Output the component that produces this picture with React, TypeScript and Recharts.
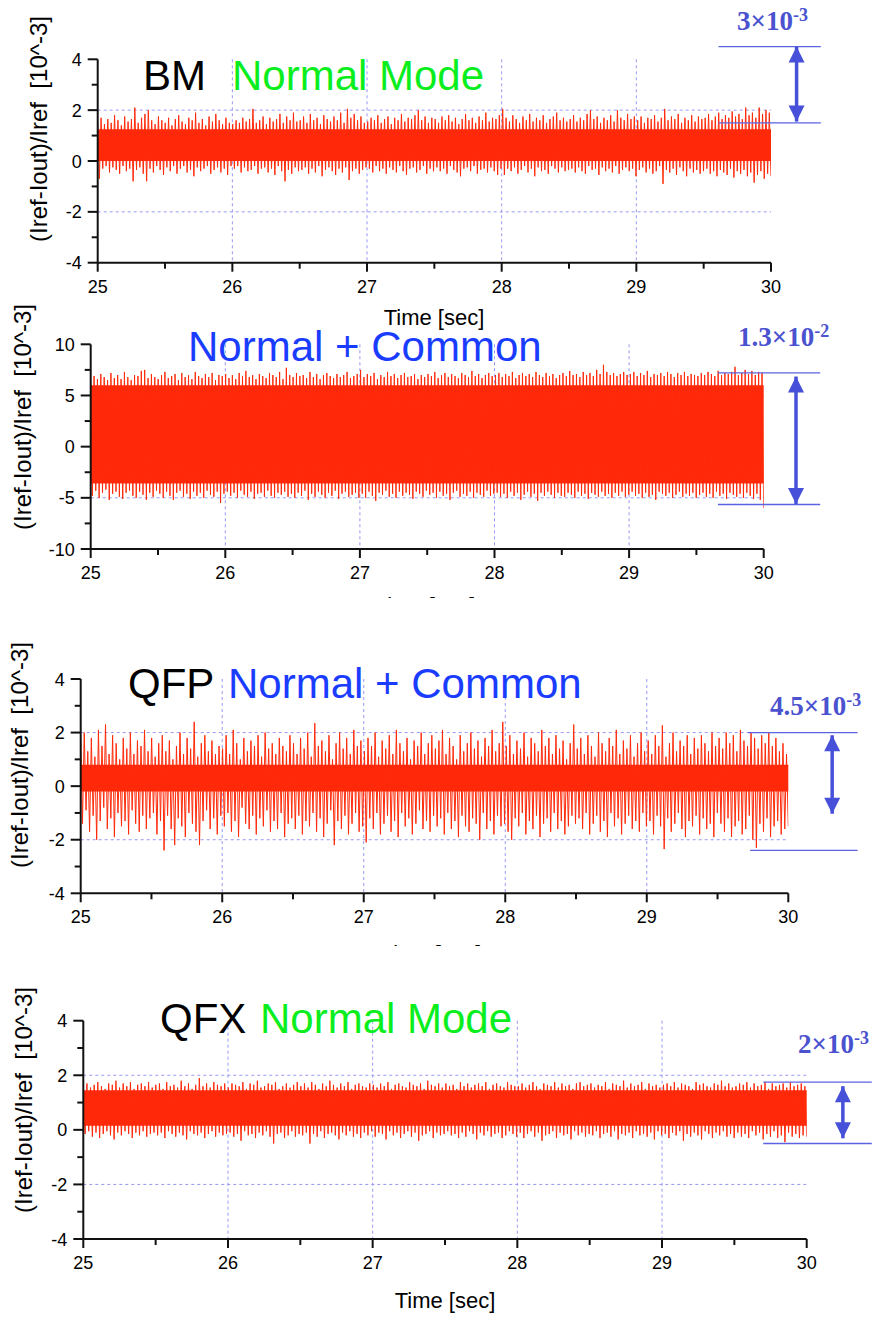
import React from 'react';
import {
  ComposedChart,
  Line,
  XAxis,
  YAxis,
  CartesianGrid,
  ReferenceArea,
  ReferenceLine,
  ReferenceDot,
} from 'recharts';

// ---------------- data ----------------
const xTicks = [25, 25.5, 26, 26.5, 27, 27.5, 28, 28.5, 29, 29.5, 30];
const xGrid = [26, 27, 28, 29];
const yTicksSmall = [-4, -3, -2, -1, 0, 1, 2, 3, 4];
const yMajorSmall = [-4, -2, 0, 2, 4];
const yTicksLarge = [-10, -7.5, -5, -2.5, 0, 2.5, 5, 7.5, 10];
const yMajorLarge = [-10, -5, 0, 5, 10];

// BM, normal mode: local maxima / minima read in 0.025 s steps from 25 s to 30 s
const bmPeaks = [
  1.55, 1.7, 1.45, 1.65, 1.5, 1.8, 1.6, 1.4, 1.75, 1.55, 1.65, 2.1, 1.5, 1.7, 1.85, 2.0, 1.6, 1.45, 1.75, 1.6,
  1.5, 1.7, 1.4, 1.65, 1.8, 1.55, 1.45, 1.7, 1.6, 1.9, 1.5, 1.65, 1.4, 1.75, 1.55, 1.85, 1.6, 1.45, 1.7, 1.5,
  1.45, 1.6, 1.5, 1.7, 1.55, 1.65, 2.05, 1.5, 1.6, 1.75, 1.45, 1.7, 1.55, 1.65, 1.85, 1.5, 1.75, 1.6, 1.9, 1.55,
  1.6, 1.75, 1.5, 1.85, 1.6, 1.7, 1.45, 1.8, 1.65, 1.55, 1.75, 1.6, 1.9, 1.5, 2.05, 1.7, 1.85, 1.6, 1.75, 1.5,
  1.55, 1.7, 1.6, 1.8, 1.5, 1.65, 1.75, 1.45, 1.7, 1.6, 1.85, 1.55, 1.7, 1.65, 1.8, 2.0, 1.6, 1.75, 1.5, 1.7,
  1.65, 1.5, 1.75, 1.6, 1.8, 1.55, 1.7, 1.45, 1.65, 1.85, 1.6, 1.7, 1.5, 1.75, 1.6, 1.9, 1.55, 1.7, 1.65, 1.8,
  2.05, 1.7, 1.55, 1.8, 1.65, 1.5, 1.75, 1.6, 1.85, 1.55, 1.7, 1.6, 1.8, 1.5, 1.65, 1.75, 1.9, 1.6, 1.7, 1.55,
  1.65, 1.8, 1.55, 1.7, 1.6, 1.85, 2.0, 1.65, 1.75, 1.5, 1.7, 1.6, 1.8, 1.55, 2.0, 1.7, 1.6, 1.85, 1.65, 1.75,
  1.6, 1.75, 1.5, 1.7, 1.65, 1.8, 1.55, 1.7, 2.05, 1.6, 1.75, 1.65, 1.85, 1.5, 1.7, 1.6, 1.8, 1.55, 1.75, 1.65,
  1.7, 1.85, 1.6, 1.75, 1.9, 1.65, 1.8, 1.7, 1.95, 1.75, 1.85, 1.65, 2.1, 1.8, 1.9, 1.7, 2.1, 1.85, 2.0, 1.9,
];
const bmTroughs = [
  -0.7, -0.3, -0.2, -0.45, -0.25, -0.35, -0.5, -0.2, -0.4, -0.3, -0.8, -0.35, -0.25, -0.5, -0.8, -0.3, -0.45, -0.2, -0.35, -0.55,
  -0.25, -0.4, -0.2, -0.5, -0.3, -0.2, -0.45, -0.35, -0.6, -0.25, -0.4, -0.3, -0.2, -0.5, -0.35, -0.25, -0.45, -0.3, -0.55, -0.2,
  -0.3, -0.2, -0.45, -0.25, -0.4, -0.35, -0.2, -0.5, -0.3, -0.25, -0.45, -0.3, -0.55, -0.2, -0.4, -0.8, -0.35, -0.5, -0.25, -0.4,
  -0.35, -0.25, -0.5, -0.3, -0.45, -0.2, -0.6, -0.35, -0.25, -0.4, -0.55, -0.3, -0.45, -0.25, -0.75, -0.4, -0.3, -0.5, -0.35, -0.25,
  -0.3, -0.45, -0.2, -0.4, -0.3, -0.5, -0.25, -0.35, -0.45, -0.2, -0.4, -0.55, -0.3, -0.25, -0.45, -0.35, -0.2, -0.5, -0.3, -0.4,
  -0.25, -0.4, -0.3, -0.5, -0.2, -0.35, -0.45, -0.6, -0.3, -0.25, -0.4, -0.2, -0.5, -0.35, -0.3, -0.45, -0.25, -0.4, -0.55, -0.3,
  -0.55, -0.3, -0.4, -0.25, -0.5, -0.35, -0.2, -0.45, -0.3, -0.6, -0.25, -0.4, -0.35, -0.5, -0.2, -0.3, -0.45, -0.25, -0.4, -0.35,
  -0.3, -0.45, -0.25, -0.4, -0.5, -0.2, -0.35, -0.3, -0.55, -0.25, -0.4, -0.3, -0.45, -0.2, -0.5, -0.35, -0.25, -0.4, -0.3, -0.6,
  -0.35, -0.25, -0.45, -0.3, -0.5, -0.4, -0.2, -0.9, -0.35, -0.45, -0.3, -0.55, -0.25, -0.4, -0.6, -0.3, -0.45, -0.35, -0.5, -0.4,
  -0.3, -0.5, -0.4, -0.6, -0.35, -0.45, -0.55, -0.3, -0.65, -0.4, -0.5, -0.35, -0.6, -0.45, -0.85, -0.55, -0.4, -0.7, -0.5, -0.6,
];
const bmCore = [0.0, 1.25];

// Normal + Common
const ncPeaks = [
  6.4, 6.9, 6.6, 7.1, 6.8, 6.5, 7.2, 6.7, 7.0, 6.6, 7.3, 6.8, 6.5, 7.0, 6.9, 7.4, 7.5, 6.7, 7.1, 6.8,
  6.6, 7.0, 7.3, 6.7, 6.9, 7.1, 6.5, 7.2, 6.8, 7.0, 6.6, 7.3, 6.9, 6.7, 7.1, 6.8, 7.2, 6.5, 7.0, 6.9,
  7.1, 6.7, 7.0, 6.6, 7.2, 6.9, 7.4, 6.8, 7.0, 6.6, 7.1, 6.9, 6.7, 7.2, 7.0, 6.8, 7.3, 6.6, 7.7, 7.0,
  6.8, 7.2, 6.9, 7.0, 6.7, 7.3, 6.8, 7.1, 6.6, 7.0, 7.2, 6.9, 6.7, 7.1, 6.8, 7.0, 7.3, 6.7, 6.9, 7.1,
  7.5, 6.8, 7.1, 6.9, 7.2, 6.6, 7.0, 6.8, 7.3, 6.9, 7.1, 6.7, 7.0, 7.2, 6.8, 6.9, 7.1, 6.6, 7.0, 6.8,
  7.1, 6.9, 7.3, 6.7, 7.0, 7.2, 6.8, 7.1, 6.9, 6.7, 7.2, 7.0, 6.8, 7.4, 6.9, 7.1, 6.7, 7.0, 7.2, 6.9,
  7.0, 7.2, 6.8, 7.1, 6.9, 7.3, 6.7, 7.0, 7.2, 6.9, 7.1, 6.8, 7.3, 7.0, 6.8, 7.2, 6.9, 7.1, 6.7, 7.0,
  7.2, 6.9, 7.4, 7.0, 7.1, 6.8, 7.3, 7.0, 7.2, 6.9, 7.5, 7.1, 8.0, 7.3, 7.0, 7.2, 6.9, 7.1, 7.3, 7.0,
  7.1, 7.3, 6.9, 7.2, 7.0, 7.4, 6.8, 7.1, 7.0, 7.2, 6.9, 7.3, 7.1, 6.8, 7.2, 7.0, 7.3, 6.9, 7.1, 7.0,
  6.9, 7.2, 7.0, 7.3, 7.1, 6.9, 7.4, 7.0, 7.2, 7.1, 7.3, 7.8, 7.0, 7.2, 7.5, 7.1, 7.4, 7.0, 7.3, 7.2,
];
const ncTroughs = [
  -4.8, -4.3, -5.0, -4.5, -4.2, -5.2, -4.6, -4.4, -4.9, -5.1, -4.5, -4.3, -4.8, -5.0, -4.4, -4.7, -5.2, -4.5, -4.9, -4.3,
  -4.6, -5.0, -4.4, -4.8, -5.2, -4.5, -4.3, -4.9, -4.6, -5.1, -4.4, -4.8, -4.5, -5.0, -4.3, -4.7, -4.9, -4.4, -5.5, -4.6,
  -4.4, -4.8, -4.5, -5.0, -4.3, -4.7, -4.9, -4.4, -5.1, -4.6, -4.5, -4.9, -4.3, -4.8, -5.0, -4.5, -4.7, -4.4, -4.9, -4.6,
  -5.0, -4.5, -4.8, -4.3, -5.2, -4.6, -4.9, -4.4, -4.7, -5.0, -4.5, -4.8, -4.3, -5.1, -4.6, -4.4, -4.9, -4.7, -4.5, -5.0,
  -4.6, -5.0, -4.4, -4.8, -5.3, -4.5, -4.7, -4.3, -4.9, -4.6, -5.0, -4.4, -4.8, -4.5, -4.7, -5.1, -4.4, -4.6, -4.9, -4.3,
  -4.7, -4.5, -5.0, -4.4, -4.8, -4.6, -5.2, -4.5, -4.3, -4.9, -4.6, -4.8, -4.4, -5.0, -4.5, -4.7, -4.9, -4.3, -4.8, -4.6,
  -4.5, -4.9, -4.6, -5.0, -4.4, -4.8, -4.5, -5.2, -4.7, -4.4, -4.9, -4.6, -5.3, -4.5, -4.8, -4.4, -4.7, -5.0, -4.5, -4.8,
  -4.9, -4.5, -4.7, -5.0, -4.4, -4.8, -4.6, -5.1, -4.5, -4.7, -4.9, -4.4, -4.8, -4.6, -5.0, -4.5, -4.8, -4.4, -4.9, -4.7,
  -4.4, -4.8, -4.6, -5.0, -4.5, -4.9, -4.7, -5.2, -4.4, -4.6, -4.8, -4.5, -5.0, -4.7, -4.4, -4.9, -4.6, -4.8, -4.5, -5.0,
  -4.7, -4.5, -4.9, -4.6, -5.0, -4.4, -4.8, -4.6, -5.1, -4.5, -4.7, -4.9, -4.6, -5.0, -4.5, -4.8, -5.1, -4.6, -5.2, -6.0,
];
const ncCore = [-3.6, 6.0];

// QFP, Normal + Common
const qfpPeaks = [
  1.7, 2.0, 1.3, 1.8, 1.1, 2.1, 1.5, 2.3, 1.2, 1.9, 1.6, 1.0, 1.8, 1.4, 2.0, 1.2, 1.7, 1.5, 2.1, 1.3,
  1.8, 1.1, 1.6, 1.9, 1.3, 1.7, 1.0, 1.5, 2.0, 1.2, 1.8, 1.4, 2.4, 1.1, 1.6, 1.9, 1.3, 1.7, 1.2, 1.5,
  1.4, 1.9, 1.2, 2.1, 1.6, 1.0, 1.8, 1.3, 1.7, 1.5, 1.9, 1.1, 2.0, 1.4, 1.6, 1.2, 1.8, 1.5, 1.3, 1.9,
  1.6, 1.2, 1.8, 1.4, 2.0, 1.1, 2.35, 1.5, 1.7, 1.3, 1.9, 1.0, 1.6, 2.0, 1.4, 1.8, 1.2, 2.1, 1.5, 1.7,
  1.3, 1.8, 1.5, 2.0, 1.1, 1.7, 1.4, 1.9, 1.2, 2.1, 1.6, 1.3, 1.8, 1.0, 1.7, 1.5, 2.0, 1.2, 1.6, 1.9,
  1.4, 1.7, 2.1, 1.2, 1.8, 1.5, 1.0, 1.9, 1.3, 1.6, 2.0, 1.4, 1.7, 1.1, 1.8, 1.5, 2.1, 1.3, 1.6, 2.4,
  1.5, 1.9, 1.2, 1.7, 1.4, 2.0, 1.1, 1.8, 1.6, 1.3, 2.1, 1.5, 1.8, 1.2, 1.9, 1.4, 1.7, 1.0, 1.6, 2.3,
  1.4, 1.8, 1.2, 1.9, 1.5, 1.1, 2.0, 1.6, 1.3, 1.8, 1.5, 2.1, 1.2, 1.7, 1.4, 1.9, 1.1, 1.6, 2.0, 1.3,
  1.7, 1.2, 1.9, 1.5, 2.27, 1.1, 1.6, 2.0, 1.3, 1.7, 1.5, 1.9, 1.2, 1.8, 1.4, 1.9, 1.6, 1.3, 2.0, 1.5,
  1.8, 1.4, 2.0, 1.6, 1.9, 1.3, 2.1, 1.7, 1.5, 2.0, 1.8, 1.4, 1.9, 1.6, 2.0, 1.5, 1.8, 1.3, 1.6, 1.2,
];
const qfpTroughs = [
  -1.4, -0.9, -1.7, -1.1, -2.0, -1.3, -0.8, -1.6, -1.2, -1.9, -1.0, -1.5, -1.3, -1.8, -0.9, -1.4, -1.7, -1.1, -1.6, -1.2,
  -1.0, -1.8, -1.3, -2.4, -1.1, -1.6, -2.2, -1.2, -1.5, -1.9, -1.0, -1.4, -1.7, -2.2, -1.3, -0.9, -1.6, -1.2, -1.8, -1.1,
  -1.5, -1.0, -1.7, -1.3, -1.9, -0.8, -1.4, -1.6, -1.1, -1.8, -1.2, -1.5, -0.9, -1.7, -1.3, -1.6, -1.0, -1.9, -1.4, -1.2,
  -1.6, -1.1, -1.8, -1.3, -1.5, -1.0, -1.7, -1.2, -1.9, -1.4, -0.9, -2.2, -1.3, -1.6, -1.1, -1.8, -1.4, -1.0, -1.7, -1.5,
  -2.1, -1.2, -1.6, -1.0, -1.8, -1.4, -1.1, -1.7, -1.3, -1.9, -1.0, -1.5, -1.2, -1.8, -1.4, -0.9, -1.6, -1.3, -1.7, -1.1,
  -1.5, -1.2, -1.8, -1.0, -1.6, -1.3, -1.9, -1.1, -1.5, -1.7, -1.2, -1.4, -2.0, -1.0, -1.6, -1.3, -1.8, -1.1, -1.5, -1.4,
  -1.7, -2.0, -1.2, -1.5, -1.0, -1.8, -1.3, -1.6, -1.1, -1.9, -1.4, -1.2, -1.7, -1.0, -1.6, -1.3, -1.8, -1.5, -1.1, -1.4,
  -1.2, -1.6, -1.0, -1.8, -1.4, -1.1, -1.7, -1.3, -1.9, -1.0, -1.5, -1.2, -1.8, -1.4, -1.1, -1.6, -1.3, -1.7, -1.0, -1.5,
  -1.3, -1.8, -1.1, -1.5, -2.35, -1.2, -1.7, -1.4, -1.0, -1.6, -1.9, -1.3, -1.5, -1.1, -1.8, -1.2, -1.6, -1.4, -1.9, -1.0,
  -1.4, -1.7, -1.2, -1.9, -1.5, -1.3, -1.8, -1.6, -1.1, -2.0, -2.3, -1.4, -1.7, -1.2, -1.9, -1.5, -1.3, -1.8, -1.6, -1.5,
];
const qfpCore = [-0.2, 0.8];

// QFX, normal mode
const qfxPeaks = [
  1.6, 1.7, 1.55, 1.65, 1.75, 1.6, 1.5, 1.7, 1.65, 1.8, 1.55, 1.7, 1.6, 1.75, 1.5, 1.65, 1.7, 1.6, 1.75, 1.55,
  1.65, 1.7, 1.5, 1.75, 1.6, 1.65, 1.55, 1.8, 1.6, 1.7, 1.5, 1.65, 1.9, 1.6, 1.7, 1.55, 1.75, 1.65, 1.6, 1.7,
  1.55, 1.7, 1.65, 1.6, 1.75, 1.5, 1.7, 1.65, 1.8, 1.55, 1.6, 1.7, 1.65, 1.75, 1.5, 1.6, 1.7, 1.55, 1.65, 1.75,
  1.6, 1.7, 1.55, 1.75, 1.65, 1.5, 1.7, 1.6, 1.8, 1.65, 1.55, 1.7, 1.6, 1.75, 1.5, 1.65, 1.7, 1.6, 1.55, 1.7,
  1.65, 1.55, 1.7, 1.6, 1.75, 1.5, 1.65, 1.7, 1.6, 1.55, 1.75, 1.65, 1.6, 1.7, 1.5, 1.8, 1.65, 1.6, 1.7, 1.55,
  1.7, 1.6, 1.65, 1.5, 1.75, 1.6, 1.7, 1.55, 1.65, 1.7, 1.6, 1.75, 1.5, 1.65, 1.7, 1.6, 1.55, 1.75, 1.65, 1.6,
  1.6, 1.7, 1.55, 1.65, 1.75, 1.6, 1.5, 1.7, 1.65, 1.6, 1.75, 1.55, 1.7, 1.6, 1.65, 1.5, 1.7, 1.75, 1.6, 1.65,
  1.7, 1.55, 1.65, 1.6, 1.75, 1.5, 1.7, 1.65, 1.6, 1.8, 1.55, 1.7, 1.6, 1.65, 1.75, 1.5, 1.7, 1.6, 1.65, 1.55,
  1.65, 1.7, 1.6, 1.75, 1.55, 1.7, 1.65, 1.6, 1.5, 1.75, 1.65, 1.7, 1.6, 1.55, 1.7, 1.65, 1.8, 1.6, 1.7, 1.55,
  1.6, 1.7, 1.65, 1.75, 1.55, 1.7, 1.6, 1.65, 1.75, 1.5, 1.7, 1.6, 1.65, 1.7, 1.55, 1.75, 1.6, 1.65, 1.7, 1.6,
];
const qfxTroughs = [
  -0.15, -0.05, -0.25, -0.1, -0.3, -0.15, -0.05, -0.2, -0.35, -0.1, -0.2, -0.05, -0.15, -0.3, -0.1, -0.2, -0.05, -0.25, -0.15, -0.1,
  -0.2, -0.1, -0.3, -0.05, -0.15, -0.25, -0.1, -0.2, -0.35, -0.05, -0.15, -0.2, -0.1, -0.3, -0.15, -0.05, -0.25, -0.1, -0.2, -0.15,
  -0.1, -0.25, -0.15, -0.4, -0.05, -0.2, -0.15, -0.3, -0.1, -0.2, -0.05, -0.25, -0.5, -0.15, -0.1, -0.3, -0.2, -0.05, -0.25, -0.15,
  -0.2, -0.1, -0.5, -0.15, -0.25, -0.05, -0.3, -0.15, -0.1, -0.2, -0.35, -0.1, -0.2, -0.05, -0.25, -0.15, -0.3, -0.1, -0.2, -0.05,
  -0.25, -0.1, -0.15, -0.35, -0.05, -0.2, -0.1, -0.3, -0.15, -0.05, -0.25, -0.1, -0.4, -0.2, -0.15, -0.05, -0.3, -0.1, -0.2, -0.15,
  -0.05, -0.2, -0.15, -0.3, -0.1, -0.25, -0.05, -0.15, -0.35, -0.1, -0.2, -0.05, -0.25, -0.15, -0.1, -0.3, -0.2, -0.05, -0.15, -0.25,
  -0.1, -0.3, -0.15, -0.05, -0.25, -0.1, -0.4, -0.2, -0.15, -0.05, -0.3, -0.1, -0.2, -0.15, -0.35, -0.05, -0.2, -0.1, -0.25, -0.15,
  -0.2, -0.05, -0.3, -0.15, -0.1, -0.25, -0.05, -0.35, -0.15, -0.2, -0.1, -0.3, -0.05, -0.2, -0.15, -0.25, -0.1, -0.35, -0.05, -0.2,
  -0.15, -0.3, -0.1, -0.2, -0.05, -0.4, -0.15, -0.25, -0.1, -0.2, -0.35, -0.05, -0.15, -0.3, -0.1, -0.2, -0.05, -0.25, -0.15, -0.3,
  -0.1, -0.25, -0.15, -0.3, -0.05, -0.2, -0.1, -0.35, -0.15, -0.25, -0.05, -0.3, -0.2, -0.45, -0.1, -0.25, -0.15, -0.3, -0.2, -0.25,
];
const qfxCore = [0.15, 1.45];

// span annotations (data units)
const bmSpan = { top: 4.5, bottom: 1.5, arrowTop: 4.5, arrowBottom: 1.55 };
const ncSpan = { top: 7.2, bottom: -5.65, arrowTop: 6.85, arrowBottom: -5.6 };
const qfpSpan = { top: 2.0, bottom: -2.4, arrowTop: 1.9, arrowBottom: -1.03 };
const qfxSpan = { top: 1.75, bottom: -0.5, arrowTop: 1.6, arrowBottom: -0.31 };

// ---------------- styles ----------------
const RED = '#FF2A0A';
const GRID = '#9898f4';
const ANN_LINE = '#5c63e2';
const ANN_ARROW = '#4650d8';
const ANN_TEXT = '#4b52cf';
const GREEN = '#0BEE1E';
const BLUE = '#1A3CFF';
const SANS = '"Liberation Sans", Arial, Helvetica, sans-serif';
const SERIF = '"Liberation Serif", "Times New Roman", serif';
const W = 878;

function buildSignal(peaks: number[], troughs: number[]) {
  const n = peaks.length * 2;
  const rows: { t: number; v: number }[] = [];
  peaks.forEach((p, k) => {
    rows.push({ t: 25 + (2 * k * 5) / (n - 1), v: p });
    rows.push({ t: 25 + ((2 * k + 1) * 5) / (n - 1), v: troughs[k] });
  });
  return rows;
}

const isMajor = (v: number, majors: number[]) => majors.some((m) => Math.abs(m - v) < 1e-6);

const XTick = (props: any) => {
  const { x, y, payload } = props;
  const v = payload.value;
  const major = Math.abs(v - Math.round(v)) < 1e-6;
  return (
    <g>
      <line x1={x} y1={y} x2={x} y2={y + (major ? 9 : 6)} stroke="#111" strokeWidth={2} />
      {major && (
        <text x={x} y={y + 30} textAnchor="middle" fontSize={18} fontFamily={SANS} fill="#000">
          {v}
        </text>
      )}
    </g>
  );
};

const YTick = (props: any) => {
  const { x, y, payload, majors } = props;
  const v = payload.value;
  const major = isMajor(v, majors);
  return (
    <g>
      <line x1={x - (major ? 10 : 6)} y1={y} x2={x} y2={y} stroke="#111" strokeWidth={2} />
      {major && (
        <text x={x - 16} y={y + 6.5} textAnchor="end" fontSize={18} fontFamily={SANS} fill="#000">
          {v}
        </text>
      )}
    </g>
  );
};

const HeadShape = (dir: 'up' | 'down') => (props: any) => {
  const { cx, cy } = props;
  const h = 16;
  const w = 8;
  const by = dir === 'up' ? cy + h : cy - h;
  return <polygon points={`${cx},${cy} ${cx - w},${by} ${cx + w},${by}`} fill={ANN_ARROW} />;
};

type PanelCfg = {
  divTop: number;
  divH: number;
  white: boolean;
  plotLeft: number;
  plotRight: number;
  plotTop: number;
  plotBottom: number;
  yDomain: [number, number];
  yTicks: number[];
  yMajor: number[];
  yGrid: number[];
  peaks: number[];
  troughs: number[];
  core: number[];
  span: { top: number; bottom: number; arrowTop: number; arrowBottom: number };
  spanX1: number;
  spanX1b: number;
  spanX2: number;
  arrowX: number;
  titleBlack: string;
  titleBlackX: number;
  titleColor: string;
  titleColored: string;
  titleColoredX: number;
  titleBase: number;
  annMain: string;
  annSup: string;
  annX: number;
  annBase: number;
  yLabelX: number;
  yLabelCY: number;
  timeX: number;
  timeBase: number;
};

const Panel = ({ c }: { c: PanelCfg }) => {
  const data = buildSignal(c.peaks, c.troughs);
  const xAxisH = 30;
  const margin = {
    top: c.plotTop - c.divTop,
    right: W - c.plotRight,
    bottom: c.divTop + c.divH - c.plotBottom - xAxisH,
    left: 0,
  };
  const o = c.divTop;
  return (
    <div
      style={{
        position: 'absolute',
        left: 0,
        top: c.divTop,
        width: W,
        height: c.divH,
        background: c.white ? '#fff' : 'transparent',
      }}
    >
      <ComposedChart width={W} height={c.divH} data={data} margin={margin}>
        <CartesianGrid
          stroke={GRID}
          strokeDasharray="3 3"
          horizontalValues={c.yGrid}
          verticalValues={xGrid}
        />
        <XAxis
          dataKey="t"
          type="number"
          domain={[25, 30]}
          ticks={xTicks}
          interval={0}
          allowDataOverflow
          height={xAxisH}
          tickSize={0}
          tickMargin={0}
          tickLine={false}
          axisLine={{ stroke: '#111', strokeWidth: 2 }}
          tick={(p: any) => <XTick {...p} />}
        />
        <YAxis
          type="number"
          domain={c.yDomain}
          ticks={c.yTicks}
          interval={0}
          allowDataOverflow
          width={c.plotLeft}
          tickSize={0}
          tickMargin={0}
          tickLine={false}
          axisLine={{ stroke: '#111', strokeWidth: 2 }}
          tick={(p: any) => <YTick {...p} majors={c.yMajor} />}
        />
        <ReferenceArea
          x1={25}
          x2={30}
          y1={c.core[0]}
          y2={c.core[1]}
          fill={RED}
          fillOpacity={1}
          stroke="none"
        />
        <Line
          dataKey="v"
          type="linear"
          stroke={RED}
          strokeWidth={1}
          dot={false}
          activeDot={false}
          isAnimationActive={false}
        />
        <ReferenceLine
          segment={[
            { x: c.spanX1, y: c.span.top },
            { x: c.spanX2, y: c.span.top },
          ]}
          stroke={ANN_LINE}
          strokeWidth={1.3}
          ifOverflow="visible"
        />
        <ReferenceLine
          segment={[
            { x: c.spanX1b, y: c.span.bottom },
            { x: c.spanX2, y: c.span.bottom },
          ]}
          stroke={ANN_LINE}
          strokeWidth={1.3}
          ifOverflow="visible"
        />
        <ReferenceLine
          segment={[
            { x: c.arrowX, y: c.span.arrowTop },
            { x: c.arrowX, y: c.span.arrowBottom },
          ]}
          stroke={ANN_ARROW}
          strokeWidth={3.5}
          ifOverflow="visible"
        />
        <ReferenceDot
          x={c.arrowX}
          y={c.span.arrowTop}
          r={1}
          ifOverflow="visible"
          shape={HeadShape('up')}
        />
        <ReferenceDot
          x={c.arrowX}
          y={c.span.arrowBottom}
          r={1}
          ifOverflow="visible"
          shape={HeadShape('down')}
        />
      </ComposedChart>
      <svg
        width={W}
        height={c.divH}
        style={{ position: 'absolute', left: 0, top: 0, pointerEvents: 'none', overflow: 'visible' }}
      >
        <text x={c.titleBlackX} y={c.titleBase - o} fontSize={42} fontFamily={SANS} fill="#000">
          {c.titleBlack}
        </text>
        <text x={c.titleColoredX} y={c.titleBase - o} fontSize={42} fontFamily={SANS} fill={c.titleColor}>
          {c.titleColored}
        </text>
        <text
          x={c.annX}
          y={c.annBase - o}
          fontSize={27}
          fontWeight="bold"
          fontFamily={SERIF}
          fill={ANN_TEXT}
        >
          {c.annMain}
          <tspan fontSize={18} dy={-9.5}>
            {c.annSup}
          </tspan>
        </text>
        <text
          transform={`translate(${c.yLabelX},${c.yLabelCY - o}) rotate(-90)`}
          textAnchor="middle"
          fontSize={24}
          fontFamily={SANS}
          fill="#000"
          style={{ whiteSpace: 'pre' }}
        >
          {'(Iref-Iout)/Iref  [10^-3]'}
        </text>
        <text x={c.timeX} y={c.timeBase - o} textAnchor="middle" fontSize={22} fontFamily={SANS} fill="#000">
          Time [sec]
        </text>
      </svg>
    </div>
  );
};

const panels: PanelCfg[] = [
  {
    divTop: 0,
    divH: 340,
    white: false,
    plotLeft: 97.7,
    plotRight: 771,
    plotTop: 59.3,
    plotBottom: 262.7,
    yDomain: [-4, 4],
    yTicks: yTicksSmall,
    yMajor: yMajorSmall,
    yGrid: [-2, 2],
    peaks: bmPeaks,
    troughs: bmTroughs,
    core: bmCore,
    span: bmSpan,
    spanX1: 29.61,
    spanX1b: 29.61,
    spanX2: 30.37,
    arrowX: 30.19,
    titleBlack: 'BM',
    titleBlackX: 143,
    titleColor: GREEN,
    titleColored: 'Normal Mode',
    titleColoredX: 232,
    titleBase: 90,
    annMain: '3×10',
    annSup: '-3',
    annX: 737,
    annBase: 30,
    yLabelX: 47,
    yLabelCY: 129,
    timeX: 434,
    timeBase: 325,
  },
  {
    divTop: 290,
    divH: 330,
    white: false,
    plotLeft: 90.7,
    plotRight: 763.7,
    plotTop: 344.3,
    plotBottom: 549,
    yDomain: [-10, 10],
    yTicks: yTicksLarge,
    yMajor: yMajorLarge,
    yGrid: [-5, 5],
    peaks: ncPeaks,
    troughs: ncTroughs,
    core: ncCore,
    span: ncSpan,
    spanX1: 29.66,
    spanX1b: 29.66,
    spanX2: 30.42,
    arrowX: 30.24,
    titleBlack: '',
    titleBlackX: 0,
    titleColor: BLUE,
    titleColored: 'Normal + Common',
    titleColoredX: 188,
    titleBase: 361,
    annMain: '1.3×10',
    annSup: '-2',
    annX: 738,
    annBase: 346,
    yLabelX: 31,
    yLabelCY: 417,
    timeX: 425,
    timeBase: 613,
  },
  {
    divTop: 598,
    divH: 370,
    white: true,
    plotLeft: 80.7,
    plotRight: 788.3,
    plotTop: 679,
    plotBottom: 893.3,
    yDomain: [-4, 4],
    yTicks: yTicksSmall,
    yMajor: yMajorSmall,
    yGrid: [-2, 2],
    peaks: qfpPeaks,
    troughs: qfpTroughs,
    core: qfpCore,
    span: qfpSpan,
    spanX1: 29.716,
    spanX1b: 29.73,
    spanX2: 30.49,
    arrowX: 30.31,
    titleBlack: 'QFP',
    titleBlackX: 128,
    titleColor: BLUE,
    titleColored: 'Normal + Common',
    titleColoredX: 228,
    titleBase: 698,
    annMain: '4.5×10',
    annSup: '-3',
    annX: 770,
    annBase: 715,
    yLabelX: 28,
    yLabelCY: 755,
    timeX: 431,
    timeBase: 961,
  },
  {
    divTop: 946,
    divH: 373,
    white: true,
    plotLeft: 83.3,
    plotRight: 806.7,
    plotTop: 1020.7,
    plotBottom: 1239,
    yDomain: [-4, 4],
    yTicks: yTicksSmall,
    yMajor: yMajorSmall,
    yGrid: [-2, 2],
    peaks: qfxPeaks,
    troughs: qfxTroughs,
    core: qfxCore,
    span: qfxSpan,
    spanX1: 29.7,
    spanX1b: 29.7,
    spanX2: 30.45,
    arrowX: 30.25,
    titleBlack: 'QFX',
    titleBlackX: 160,
    titleColor: GREEN,
    titleColored: 'Normal Mode',
    titleColoredX: 260,
    titleBase: 1033,
    annMain: '2×10',
    annSup: '-3',
    annX: 798,
    annBase: 1053,
    yLabelX: 32,
    yLabelCY: 1100,
    timeX: 445,
    timeBase: 1308,
  },
];

export default function App() {
  return (
    <div
      style={{
        position: 'absolute',
        left: 0,
        top: 0,
        width: W,
        height: 1319,
        background: '#fff',
        overflow: 'hidden',
      }}
    >
      {panels.map((c, i) => (
        <Panel key={i} c={c} />
      ))}
    </div>
  );
}
